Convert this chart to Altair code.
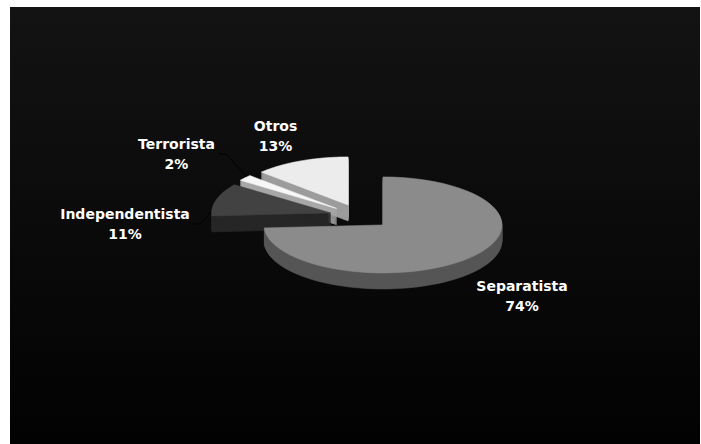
import altair as alt
import pandas as pd

# ---------------- data ----------------
categories = ["Separatista", "Independentista", "Terrorista", "Otros"]
shares = [74, 11, 2, 13]

# ---------------- layout / style (image pixel coordinates) ----------------
PAD_L, PAD_T = 10, 7
W, H = 690, 437
CX, CY = 360.4, 216.4       # pie centre
RX, RY = 119, 48            # ellipse radii of the tilted pie
EXPLODE = 0.26              # explosion as fraction of radius
DEPTH = 16                  # wall thickness
N = 60                      # arc resolution

top_colors = {"Separatista": "#8b8b8b", "Independentista": "#424242",
              "Terrorista": "#f7f7f7", "Otros": "#ececec"}
wall_colors = {"Separatista": "#555555", "Independentista": "#262626",
               "Terrorista": "#a8a8a8", "Otros": "#9c9c9c"}
# position of the first text line of each label
label_pos = {"Separatista": (522, 286.5), "Independentista": (125, 214.5),
             "Terrorista": (176.5, 144.5), "Otros": (275.5, 126.5)}
leader_start = {"Independentista": (192, 224), "Terrorista": (218, 154)}
draw_order = ["Otros", "Terrorista", "Independentista", "Separatista"]


def lookup_expr(d, i):
    parts = " : ".join(f"datum.cat == '{k}' ? {v[i]}" for k, v in d.items())
    return f"({parts} : 0)"


df = pd.DataFrame({"cat": categories, "share": shares, "ord": list(range(len(categories)))})

xs = alt.Scale(domain=[PAD_L, PAD_L + W], nice=False, zero=False)
ys = alt.Scale(domain=[PAD_T, PAD_T + H], nice=False, zero=False, reverse=True)

base = (
    alt.Chart(df)
    .transform_joinaggregate(total="sum(share)")
    .transform_window(cum="sum(share)", sort=[alt.SortField("ord")], frame=[None, 0])
    .transform_calculate(
        a0="2*PI*(datum.cum - datum.share)/datum.total",
        a1="2*PI*datum.cum/datum.total",
    )
    .transform_calculate(mid="(datum.a0 + datum.a1)/2")
    .transform_calculate(
        vx=f"{CX} + {EXPLODE * RX}*sin(datum.mid)",
        vy=f"{CY} - {EXPLODE * RY}*cos(datum.mid)",
    )
)

poly = (
    base.transform_calculate(pts=f"sequence(-1, {N + 1})", dep=f"sequence(0, {DEPTH + 1})")
    .transform_flatten(["pts"])
    .transform_flatten(["dep"])
    .transform_calculate(ang=f"datum.a0 + (datum.a1 - datum.a0)*datum.pts/{N}")
    .transform_calculate(
        px=f"datum.pts < 0 ? datum.vx : datum.vx + {RX}*sin(datum.ang)",
        py=f"(datum.pts < 0 ? datum.vy : datum.vy - {RY}*cos(datum.ang)) + datum.dep",
    )
)

enc = dict(
    x=alt.X("px:Q", scale=xs, axis=None),
    y=alt.Y("py:Q", scale=ys, axis=None),
    detail="dep:N",
    order="pts:Q",
)

bg = alt.Chart(pd.DataFrame({"k": [0]})).mark_rect(
    color=alt.LinearGradient(
        gradient="linear",
        stops=[alt.GradientStop(color="#131313", offset=0),
               alt.GradientStop(color="#020202", offset=1)],
        x1=0, x2=0, y1=0, y2=1,
    )
).encode(x=alt.value(0), x2=alt.value(W), y=alt.value(0), y2=alt.value(H))

layers = [bg]

leaders = (
    base.transform_filter(alt.FieldOneOfPredicate(field="cat", oneOf=list(leader_start)))
    .transform_calculate(
        sx=lookup_expr(leader_start, 0), sy=lookup_expr(leader_start, 1),
        ex=f"datum.vx + {0.95 * RX}*sin(datum.mid)",
        ey=f"datum.vy - {0.95 * RY}*cos(datum.mid)",
        pts="sequence(0, 3)",
    )
    .transform_flatten(["pts"])
    .transform_calculate(
        px="datum.pts == 0 ? datum.sx : (datum.pts == 1 ? datum.sx + 8 : datum.ex)",
        py="datum.pts == 2 ? datum.ey : datum.sy",
    )
    .mark_line(color="#000000", strokeWidth=1)
    .encode(x=alt.X("px:Q", scale=xs, axis=None), y=alt.Y("py:Q", scale=ys, axis=None),
            detail="cat:N", order="pts:Q")
)
layers.append(leaders)

for c in draw_order:
    wall = (
        poly.transform_filter(f"datum.cat == '{c}' && datum.dep > 0")
        .mark_line(interpolate="linear-closed", fill=wall_colors[c], stroke=wall_colors[c],
                   strokeWidth=0.6)
        .encode(**enc)
    )
    top = (
        poly.transform_filter(f"datum.cat == '{c}' && datum.dep == 0")
        .mark_line(interpolate="linear-closed", fill=top_colors[c], stroke=top_colors[c],
                   strokeWidth=0.6)
        .encode(**enc)
    )
    layers += [wall, top]

labels = (
    base.transform_calculate(
        lx=lookup_expr(label_pos, 0), ly=lookup_expr(label_pos, 1),
        txt="[datum.cat, datum.share + '%']",
    )
    .mark_text(font="DejaVu Sans", fontWeight="bold", fontSize=14, color="#ffffff",
               lineHeight=20, align="center", baseline="middle")
    .encode(x=alt.X("lx:Q", scale=xs, axis=None), y=alt.Y("ly:Q", scale=ys, axis=None),
            text="txt:N")
)
layers.append(labels)

chart = (
    alt.layer(*layers)
    .properties(width=W, height=H, background="#ffffff",
                padding={"left": PAD_L, "top": PAD_T, "right": 0, "bottom": 0},
                autosize=alt.AutoSizeParams(type="none"))
    .configure_view(stroke=None)
)

chart.save("out.html", embed_options={"renderer": "svg", "actions": False})
